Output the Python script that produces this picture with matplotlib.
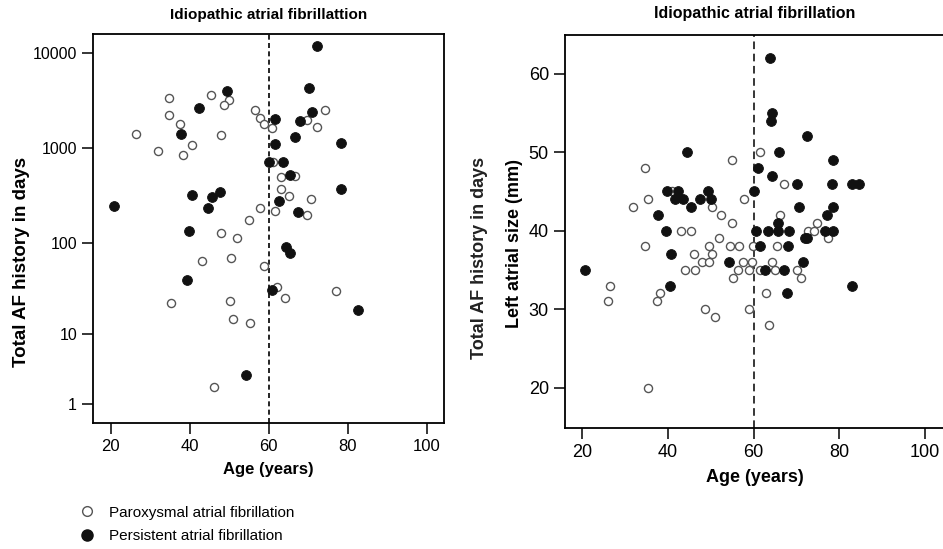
import numpy as np
import matplotlib
matplotlib.use('Agg')
import matplotlib.pyplot as plt
from matplotlib import font_manager
from matplotlib.lines import Line2D

#data
#left panel: age (years) vs total AF history (days)
parox_age_hist = [34.7, 45.3, 49.9, 48.7, 34.8, 37.5, 26.5, 47.8, 40.7, 31.9, 38.2,
                  56.5, 57.8, 58.8, 60.8, 61.0, 63.0, 66.7, 63.0, 65.2, 57.8, 61.5,
                  55.1, 48.0, 52.0, 69.6, 69.8, 74.3, 72.3, 70.8, 43.0, 50.5, 58.9,
                  62.2, 64.1, 35.3, 50.2, 50.9, 55.2, 77.0, 46.1]
parox_days = [3400, 3640, 3240, 2870, 2240, 1800, 1410, 1380, 1080, 930, 850,
              2530, 2065, 1800, 1640, 720, 493, 508, 371, 312, 232, 217,
              176, 126, 113, 1970, 195, 2550, 1670, 289, 64, 69, 57,
              33.5, 25.6, 22.5, 23.7, 15, 13.4, 30.5, 2.05]

pers_age_hist = [49.4, 42.3, 37.8, 61.6, 61.5, 60.1, 63.7, 65.3, 62.7, 40.7, 45.6,
                 47.7, 20.7, 44.6, 67.5, 39.9, 70.1, 67.9, 66.7, 72.2, 71.1, 78.2,
                 78.2, 64.4, 65.3, 39.4, 60.8, 82.5, 54.3]
pers_days = [3980, 2650, 1410, 2030, 1110, 720, 720, 521, 277, 318, 307,
             342, 243, 231, 213, 133, 4350, 1950, 1312, 11940, 2400, 1142,
             371, 90, 78, 39.8, 30.8, 18.6, 3.05]

#right panel: age (years) vs left atrial size (mm)
parox_age_la = [34.8, 55.0, 35.3, 31.8, 41.0, 50.2, 52.3, 55.0, 57.8, 43.0, 45.3,
                61.5, 67.0, 66.1, 74.7, 72.6, 74.0, 77.3, 52.0, 49.7, 54.4, 56.5,
                59.8, 65.4, 34.7, 46.1, 50.4, 47.9, 49.5, 57.6, 59.7, 64.2, 44.1,
                46.3, 56.4, 58.9, 61.4, 65.0, 70.2, 55.3, 71.1, 26.5, 26.1, 38.1,
                37.4, 63.0, 48.6, 50.9, 58.9, 63.7, 35.3]
parox_la = [48, 49, 44, 43, 45, 43, 42, 41, 44, 40, 40,
            50, 46, 42, 41, 40, 40, 39, 39, 38, 38, 38,
            38, 38, 38, 37, 37, 36, 36, 36, 36, 36, 35,
            35, 35, 35, 35, 35, 35, 34, 34, 33, 31, 32,
            31, 32, 30, 29, 30, 28, 20]

pers_age_la = [44.5, 39.9, 42.3, 41.7, 43.6, 45.5, 47.6, 49.4, 50.1, 60.0, 37.8,
               39.5, 60.5, 61.1, 63.9, 64.4, 64.0, 72.4, 66.0, 78.6, 64.2, 70.2,
               78.3, 82.9, 84.6, 70.5, 78.6, 77.1, 65.7, 63.4, 65.7, 68.3, 76.7,
               78.5, 71.9, 72.5, 61.4, 68.1, 54.3, 71.5, 62.6, 67.0, 67.8, 82.9,
               40.7, 40.6, 20.7]
pers_la = [50, 45, 45, 44, 44, 43, 44, 45, 44, 45, 42,
           40, 40, 48, 62, 55, 54, 52, 50, 49, 47, 46,
           46, 46, 46, 43, 43, 42, 41, 40, 40, 40, 40,
           40, 39, 39, 38, 38, 36, 36, 35, 35, 32, 33,
           37, 33, 35]

x_ticks = [20, 40, 60, 80, 100]
hist_ticks = [1, 10, 100, 1000, 10000]
la_ticks = [20, 30, 40, 50, 60]
cutoff_age = 60

#fonts
names = set(f.name for f in font_manager.fontManager.ttflist)
narrow = 'Liberation Sans Narrow' if 'Liberation Sans Narrow' in names else 'Liberation Sans'
plt.rcParams['font.family'] = ['Liberation Sans', 'DejaVu Sans']

open_style = dict(marker='o', s=34, facecolors='white', edgecolors='#555555', linewidths=1.0, zorder=3)
fill_style = dict(marker='o', s=50, facecolors='#111111', edgecolors='#111111', linewidths=0.6, zorder=4)

fig = plt.figure(figsize=(9.43, 5.49), dpi=100)

def style_axis(ax, size):
    for sp in ax.spines.values():
        sp.set_linewidth(1.3)
    ax.tick_params(direction='out', length=8, width=1.1)
    ax.tick_params(axis='x', labelsize=size)
    for lab in ax.get_xticklabels():
        lab.set_family(narrow)
    ax.set_xlabel('Age (years)', fontsize=size, fontweight='bold', family=narrow, labelpad=6)

#left panel
ax1 = fig.add_axes([0.0986, 0.2295, 0.3722, 0.7085])
ax1.set_yscale('function', functions=(lambda v: np.log10(np.maximum(v, -0.999) + 1),
                                      lambda t: 10 ** t - 1))
ax1.scatter(parox_age_hist, parox_days, **open_style)
ax1.scatter(pers_age_hist, pers_days, **fill_style)
ax1.axvline(cutoff_age, color='black', linestyle=(0, (3, 2)), linewidth=1.2, zorder=2)
ax1.set_xlim(15.5, 104.4)
ax1.set_ylim(0.27, 15960)
ax1.set_xticks(x_ticks)
ax1.set_yticks(hist_ticks)
ax1.set_yticklabels([str(t) for t in hist_ticks])
ax1.minorticks_off()
ax1.tick_params(axis='y', labelsize=11.5)
style_axis(ax1, 12)
ax1.set_ylabel('Total AF history in days', fontsize=13.5, fontweight='bold')
ax1.yaxis.set_label_coords(-0.18, 0.414)
ax1.set_title('Idiopathic atrial fibrillattion', fontsize=11, fontweight='bold', pad=11)

#right panel
ax2 = fig.add_axes([0.599, 0.221, 0.402, 0.715])
ax2.scatter(parox_age_la, parox_la, **open_style)
ax2.scatter(pers_age_la, pers_la, **fill_style)
ax2.axvline(cutoff_age, color='black', linestyle=(0, (5, 3)), linewidth=1.1, zorder=2)
ax2.set_xlim(16.0, 104.4)
ax2.set_ylim(14.9, 64.9)
ax2.set_xticks(x_ticks)
ax2.set_yticks(la_ticks)
ax2.tick_params(axis='y', labelsize=13)
ax2.spines['right'].set_visible(False)
style_axis(ax2, 13)
ax2.set_ylabel('Left atrial size (mm)', fontsize=13, fontweight='bold')
ax2.yaxis.set_label_coords(-0.11, 0.47)
ax2.set_title('Idiopathic atrial fibrillation', fontsize=11.5, fontweight='bold', pad=12)

#leftover label from the original figure
fig.text(479 / 943, 1 - 258 / 549, 'Total AF history in days', rotation=90,
         ha='center', va='center', fontsize=13, fontweight='bold', color='#222222')

#legend
handles = [Line2D([], [], marker='o', linestyle='none', markersize=7, markerfacecolor='white',
                  markeredgecolor='#555555', markeredgewidth=1.0),
           Line2D([], [], marker='o', linestyle='none', markersize=8, markerfacecolor='#111111',
                  markeredgecolor='#111111')]
fig.legend(handles, ['Paroxysmal atrial fibrillation', 'Persistent atrial fibrillation'],
           loc='upper left', bbox_to_anchor=(0.07, 0.09), frameon=False,
           prop={'family': narrow, 'size': 11}, handletextpad=0.4, labelspacing=0.6,
           borderaxespad=0)

fig.savefig('out.png', dpi=100)
